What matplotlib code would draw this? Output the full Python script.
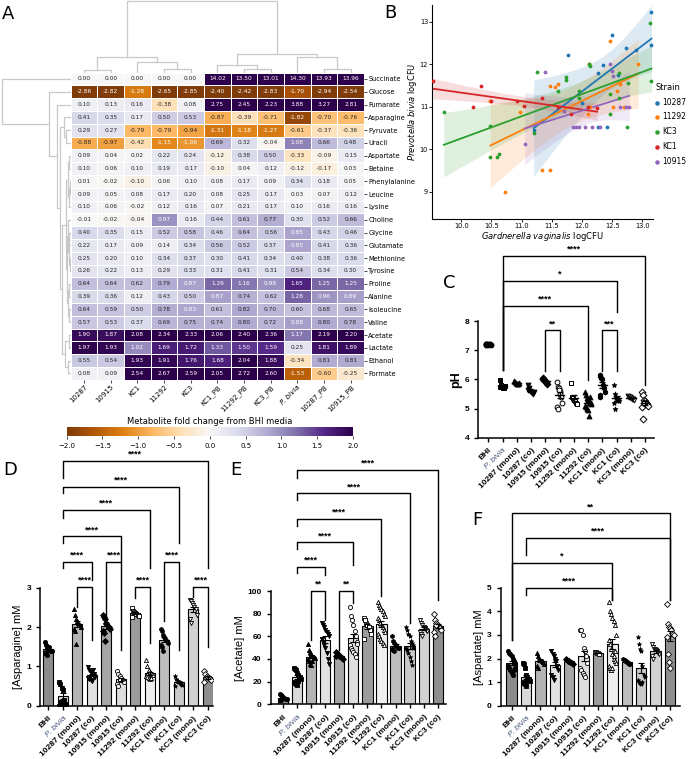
import numpy as np
import matplotlib.pyplot as plt
import seaborn as sns

W, H = 696, 759
fig = plt.figure(figsize=(W / 100, H / 100), dpi=100)


def px_axes(x0, y0, x1, y1):
    return fig.add_axes([x0 / W, 1 - y1 / H, (x1 - x0) / W, (y1 - y0) / H])


# ---------------- A: heatmap data ----------------
hm_cols = ["10287", "10915", "KC1", "11292", "KC3", "KC1_PB", "11292_PB",
           "KC3_PB", "P. bivia", "10287_PB", "10915_PB"]
hm_rows = ["Succinate", "Glucose", "Fumarate", "Asparagine", "Pyruvate", "Uracil",
           "Aspartate", "Betaine", "Phenylalanine", "Leucine", "Lysine", "Choline",
           "Glycine", "Glutamate", "Methionine", "Tyrosine", "Proline", "Alanine",
           "Isoleucine", "Valine", "Acetate", "Lactate", "Ethanol", "Formate"]
hm_vals = np.array([
    [0.00, 0.00, 0.00, 0.00, 0.00, 14.02, 13.50, 13.01, 14.30, 13.93, 13.96],
    [-2.86, -2.82, -1.28, -2.65, -2.85, -2.40, -2.42, -2.83, -1.70, -2.94, -2.54],
    [0.10, 0.13, 0.16, -0.38, 0.08, 2.75, 2.45, 2.23, 3.88, 3.27, 2.81],
    [0.41, 0.35, 0.17, 0.50, 0.53, -0.87, -0.39, -0.71, -1.82, -0.70, -0.76],
    [0.29, 0.27, -0.79, -0.79, -0.94, -1.31, -1.18, -1.27, -0.61, -0.37, -0.36],
    [-0.88, -0.97, -0.42, -1.15, -1.06, 0.69, 0.32, -0.04, 1.08, 0.66, 0.48],
    [0.09, 0.04, 0.02, 0.22, 0.24, -0.12, 0.38, 0.50, -0.33, -0.09, 0.15],
    [0.10, 0.06, 0.10, 0.19, 0.17, -0.10, 0.04, 0.12, -0.12, -0.17, 0.03],
    [0.01, -0.02, -0.10, 0.06, 0.10, 0.08, 0.17, 0.09, 0.34, 0.18, 0.05],
    [0.09, 0.05, 0.08, 0.17, 0.20, 0.08, 0.25, 0.17, 0.03, 0.07, 0.12],
    [0.10, 0.06, -0.02, 0.12, 0.16, 0.07, 0.21, 0.17, 0.10, 0.16, 0.16],
    [-0.01, -0.02, -0.04, 0.97, 0.16, 0.44, 0.61, 0.77, 0.30, 0.52, 0.66],
    [0.40, 0.35, 0.15, 0.52, 0.58, 0.46, 0.64, 0.56, 0.85, 0.43, 0.46],
    [0.22, 0.17, 0.09, 0.14, 0.34, 0.56, 0.52, 0.37, 0.85, 0.41, 0.36],
    [0.25, 0.20, 0.10, 0.34, 0.37, 0.30, 0.41, 0.34, 0.40, 0.38, 0.36],
    [0.26, 0.22, 0.13, 0.29, 0.33, 0.31, 0.41, 0.31, 0.54, 0.34, 0.30],
    [0.64, 0.64, 0.62, 0.79, 0.87, 1.26, 1.16, 0.98, 1.65, 1.25, 1.25],
    [0.39, 0.36, 0.12, 0.43, 0.50, 0.87, 0.74, 0.62, 1.28, 0.96, 0.89],
    [0.64, 0.59, 0.50, 0.78, 0.83, 0.61, 0.82, 0.70, 0.60, 0.68, 0.65],
    [0.57, 0.53, 0.37, 0.69, 0.75, 0.74, 0.80, 0.72, 0.88, 0.80, 0.78],
    [1.90, 1.87, 2.08, 2.34, 2.33, 2.06, 2.40, 2.36, 1.17, 2.19, 2.20],
    [1.97, 1.93, 1.02, 1.69, 1.72, 1.33, 1.50, 1.59, 0.25, 1.81, 1.89],
    [0.55, 0.54, 1.93, 1.91, 1.76, 1.68, 2.04, 1.88, -0.34, 0.81, 0.81],
    [0.08, 0.09, 2.54, 2.67, 2.59, 2.05, 2.72, 2.60, -1.53, -0.60, -0.25],
])
# dendrogram merges: (child a, child b, height in px)
col_merges = [(0, 1, 3), (3, 4, 4), (2, 12, 10.3), (11, 13, 16), (6, 7, 4), (5, 15, 8),
              (9, 10, 4), (8, 17, 15.7), (16, 18, 19), (14, 19, 72)]
row_merges = [(20, 21, 2), (22, 23, 2.5), (24, 25, 6), (4, 5, 5), (3, 27, 7),
              (6, 7, 1.5), (8, 9, 1), (30, 10, 1.5), (29, 31, 2.5), (12, 13, 1.5),
              (14, 15, 1), (33, 34, 2), (11, 35, 3), (16, 17, 2), (18, 19, 1.5),
              (37, 38, 3), (36, 39, 4), (32, 40, 5), (41, 26, 9), (28, 42, 11),
              (2, 43, 14), (1, 44, 21.7), (0, 45, 69)]

# ---------------- B: scatter data ----------------
strains = ["10287", "11292", "KC3", "KC1", "10915"]
strain_colors = ["#1f77b4", "#ff7f0e", "#2ca02c", "#d62728", "#9467bd"]
gv_10287 = [11.2, 11.76, 12.27, 12.34, 12.42, 12.27, 12.5, 12.6, 12.72, 12.9, 13.15, 13.15, 12.0]
pb_10287 = [10.45, 12.22, 11.8, 11.98, 10.52, 10.52, 12.69, 11.75, 12.39, 12.35, 13.23, 12.45, 11.1]
gv_11292 = [10.48, 10.73, 10.97, 11.33, 11.47, 11.47, 11.55, 11.6, 12.1, 12.11, 12.13, 12.47,
            12.51, 12.58, 12.63, 12.7, 12.93]
pb_11292 = [11.14, 8.99, 10.87, 9.52, 9.52, 11.5, 11.47, 11.53, 10.83, 12.02, 11.0, 12.55,
            11.0, 11.37, 11.53, 11.0, 12.02]
gv_KC3 = [9.71, 10.48, 10.48, 10.59, 10.63, 11.21, 11.26, 11.6, 11.74, 11.74, 11.95, 11.95,
          12.11, 12.13, 12.47, 12.47, 12.61, 12.61, 12.74, 12.76, 13.12, 13.15]
pb_KC3 = [10.88, 10.56, 9.82, 9.83, 9.9, 10.38, 11.82, 11.38, 11.71, 11.64, 11.38, 11.22,
          12.0, 11.96, 11.3, 10.83, 11.8, 11.22, 10.52, 11.57, 12.98, 11.6]
gv_KC1 = [9.53, 10.19, 10.32, 10.5, 10.92, 11.04, 11.33, 11.6, 11.81, 12.1, 12.25]
pb_KC1 = [11.6, 10.99, 11.49, 11.14, 11.14, 11.01, 11.22, 11.0, 10.83, 10.99, 10.97]
gv_10915 = [11.05, 11.38, 11.7, 11.85, 11.9, 11.95, 12.05, 12.16, 12.3, 12.46, 12.5, 12.51,
            12.63, 12.72, 12.78]
pb_10915 = [10.12, 11.83, 10.91, 10.52, 10.52, 10.52, 10.52, 10.52, 10.52, 12.02, 11.84,
            11.73, 11.0, 11.0, 11.0]

# ---------------- C-F: group data ----------------
groups = ["BHI", "P. bivia", "10287 (mono)", "10287 (co)", "10915 (mono)", "10915 (co)",
          "11292 (mono)", "11292 (co)", "KC1 (mono)", "KC1 (co)", "KC3 (mono)", "KC3 (co)"]
ph = [
    [7.18, 7.2, 7.22, 7.19, 7.21, 7.2, 7.18, 7.22],
    [5.98, 5.8, 5.75, 5.72, 5.7, 5.72, 5.78, 5.74],
    [5.95, 5.9, 5.88, 5.85, 5.83, 5.87],
    [5.82, 5.7, 5.6, 5.55, 5.52, 5.5, 5.58, 5.62],
    [6.05, 6.0, 5.98, 5.95, 5.9, 5.85],
    [5.9, 5.75, 5.7, 5.6, 5.5, 5.4, 5.2, 5.05, 4.97, 5.65],
    [5.88, 5.4, 5.35, 5.3, 5.25, 5.2, 5.15],
    [5.55, 5.45, 5.35, 5.3, 5.25, 5.2, 5.15, 5.1, 5.05, 5.0, 4.95, 4.75, 5.4, 5.2],
    [6.15, 6.1, 6.05, 6.0, 5.8, 5.7, 5.55, 5.45, 5.4],
    [5.82, 5.5, 5.4, 5.35, 5.3, 5.3, 5.25, 5.2, 5.0],
    [5.42, 5.4, 5.38, 5.35, 5.33, 5.32, 5.3],
    [5.55, 5.45, 5.3, 5.25, 5.2, 5.15, 5.1, 5.05, 4.65, 5.2],
]
asparagine = [
    [1.62, 1.55, 1.5, 1.45, 1.42, 1.4, 1.38, 1.35, 1.33, 1.3, 1.45, 1.48],
    [0.6, 0.55, 0.45, 0.4, 0.15, 0.05, 0.02, 0.0, 0.1, 0.05],
    [2.45, 2.3, 2.2, 2.15, 2.1, 2.05, 2.0, 1.95, 1.9, 1.58],
    [0.98, 0.9, 0.85, 0.8, 0.78, 0.75, 0.72, 0.7, 0.68, 0.65, 0.62, 0.9, 0.8],
    [2.3, 2.25, 2.2, 2.1, 2.05, 2.0, 1.95, 1.9, 1.85, 1.65],
    [0.88, 0.8, 0.75, 0.7, 0.65, 0.62, 0.6, 0.55, 0.5, 0.65],
    [2.48, 2.42, 2.38, 2.35, 2.32, 2.3, 2.28, 2.25],
    [1.15, 1.0, 0.9, 0.85, 0.82, 0.8, 0.78, 0.75, 0.72, 0.7, 0.68, 0.7],
    [1.95, 1.9, 1.8, 1.75, 1.7, 1.65, 1.6, 1.55, 1.5, 1.4],
    [0.75, 0.68, 0.62, 0.6, 0.58, 0.55, 0.52, 0.5],
    [2.7, 2.65, 2.6, 2.55, 2.5, 2.45, 2.3, 2.2, 2.1],
    [0.88, 0.8, 0.75, 0.72, 0.7, 0.68, 0.65, 0.6],
]
acetate = [
    [9, 8, 7, 6, 6, 5, 5, 4, 4, 6],
    [32, 31, 30, 28, 26, 24, 22, 20, 19, 18, 17, 21],
    [53, 48, 46, 44, 43, 42, 41, 40, 38, 36, 35, 38],
    [72, 70, 68, 66, 64, 62, 60, 58, 55, 52, 50, 45, 40, 36, 58],
    [46, 45, 44, 43, 42, 41, 40, 43],
    [86, 78, 74, 70, 65, 60, 55, 52, 50, 48, 46, 44, 42, 53],
    [76, 74, 72, 70, 68, 66, 62, 58, 74],
    [90, 88, 86, 84, 82, 80, 78, 76, 74, 72, 70, 68, 66, 64, 62, 60, 58, 56, 54, 52],
    [60, 56, 54, 52, 51, 50, 50, 49, 48, 47],
    [68, 66, 62, 60, 56, 54, 52, 50, 48, 45, 42, 38, 35, 50],
    [74, 72, 70, 68, 67, 66, 65, 64, 62, 60],
    [80, 74, 72, 70, 68, 67, 66, 64, 60, 70],
]
aspartate = [
    [2.3, 2.25, 2.2, 2.1, 2.0, 1.9, 1.8, 1.7, 1.6, 1.5, 1.4, 1.3, 1.5, 1.6],
    [1.8, 1.75, 1.6, 1.3, 1.2, 1.1, 1.05, 1.0, 0.95, 0.9, 0.85, 1.1],
    [2.25, 2.1, 2.0, 1.95, 1.9, 1.85, 1.75, 1.7, 1.6],
    [2.3, 2.2, 2.1, 2.0, 1.9, 1.7, 1.5, 1.3, 1.2, 1.1, 1.9],
    [2.0, 1.95, 1.9, 1.88, 1.85, 1.8, 1.75],
    [3.2, 3.2, 3.0, 2.45, 2.3, 2.1, 1.8, 1.6, 1.5, 1.4, 1.3, 1.2],
    [2.28, 2.26, 2.24, 2.22, 2.2],
    [4.4, 4.0, 3.9, 3.7, 3.6, 3.4, 3.0, 2.8, 2.6, 2.4, 2.2, 2.0, 1.9, 1.8, 1.7, 1.6, 1.5,
     1.6, 2.1, 2.3],
    [2.0, 1.95, 1.9, 1.85, 1.8, 1.78, 1.75],
    [2.9, 2.6, 2.4, 2.3, 1.7, 1.3, 1.2, 1.1, 1.0, 0.95, 0.9, 1.0],
    [2.6, 2.5, 2.4, 2.35, 2.3, 2.25, 2.2, 2.1, 2.0],
    [4.3, 3.45, 3.35, 3.3, 3.2, 3.1, 3.0, 2.9, 2.2, 1.85, 1.6, 3.2],
]
# significance brackets: (group i, group j, bar height, label, left leg end, right leg end)
sig_ph = [(1, 11, 10.23, "****", 6.32, 5.8), (1, 9, 9.38, "*", 6.32, 8.32),
          (1, 7, 8.51, "****", 6.32, 5.98), (4, 5, 7.68, "**", 6.3, 6.3),
          (8, 9, 7.68, "***", 6.3, 6.3)]
sig_asn = [(1, 11, 6.22, "****", 5.79, 3.5), (1, 9, 5.57, "****", 5.41, 4.14),
           (1, 7, 4.98, "****", 4.77, 3.5), (1, 5, 4.31, "****", 4.14, 3.66),
           (1, 3, 3.66, "****", 3.5, 3.2), (4, 5, 3.66, "****", 2.27, 1.42),
           (8, 9, 3.66, "****", 2.15, 1.42), (2, 3, 3.03, "****", 2.52, 1.67),
           (6, 7, 3.03, "****", 2.73, 1.6), (10, 11, 3.03, "****", 2.77, 1.5)]
sig_ace = [(1, 11, 206.8, "****", 200, 92), (1, 9, 186.2, "****", 180, 72),
           (1, 7, 163.5, "****", 157, 96), (1, 5, 143, "****", 137, 123),
           (1, 3, 121.4, "****", 116, 114), (2, 3, 100.3, "**", 57, 74),
           (4, 5, 100.3, "**", 48, 89)]
sig_asp = [(0, 11, 8.15, "**", 2.78, 4.48), (1, 11, 7.12, "****", 6.38, 4.48),
           (0, 7, 6.06, "*", 2.78, 4.48), (1, 7, 5.0, "****", 4.7, 4.48)]

bar_colors = ["#8c8c8c", "#d9d9d9", "#b4b4b4", "#e2e2e2", "#a6a6a6", "#dedede",
              "#9c9c9c", "#efefef", "#bebebe", "#cacaca", "#d2d2d2", "#8e8e8e"]
markers = ["o", "s", "^", "v", "D", "o", "s", "^", "h", "*", "v", "D"]
filled = [True, True, True, True, True, False, False, False, True, True, False, False]


def spread(n):
    k = np.arange(n)
    return ((k % 7) - 3) * 0.08


def bracket(ax, i, j, y, label, yl, yr):
    ax.plot([i, i, j, j], [yl, y, y, yr], color="k", lw=1.0, clip_on=False)
    ax.annotate(label, xy=((i + j) / 2, y), xytext=(0, 1.5), textcoords="offset points",
                ha="center", va="bottom", fontsize=6.5, fontweight="bold",
                family="Liberation Sans", annotation_clip=False)


def style_group_axes(ax, ylim, yticks, ylabel, xlim):
    ax.set_xlim(*xlim)
    ax.set_ylim(*ylim)
    ax.set_yticks(yticks)
    for s in ["top", "right"]:
        ax.spines[s].set_visible(False)
    for s in ["left", "bottom"]:
        ax.spines[s].set_linewidth(1.1)
    ax.tick_params(axis="both", width=1.0, length=3, labelsize=6)
    for t in ax.get_yticklabels():
        t.set_fontweight("bold")
        t.set_family("Liberation Sans")
    ax.set_xticks(range(len(groups)))
    ax.set_xticklabels(groups, rotation=45, ha="right", rotation_mode="anchor",
                       fontsize=6, fontweight="bold", family="Liberation Sans")
    lab = ax.get_xticklabels()[1]
    lab.set_fontstyle("italic")
    lab.set_fontweight("normal")
    lab.set_color("#4a5a80")
    ax.set_ylabel(ylabel, fontsize=8, family="Liberation Sans", labelpad=2)


def bar_panel(ax, data, sig):
    for k, vals in enumerate(data):
        vals = np.asarray(vals, dtype=float)
        m = vals.mean()
        sem = vals.std(ddof=1) / np.sqrt(len(vals))
        ax.bar(k, m, width=0.72, color=bar_colors[k], edgecolor="k", lw=0.8, zorder=1)
        ax.scatter(k + spread(len(vals)), vals, marker=markers[k], s=9,
                   facecolors="k" if filled[k] else "white", edgecolors="k",
                   linewidths=0.6, zorder=2)
        ax.errorbar(k, m, yerr=sem, color="k", capsize=2, lw=0.8, capthick=0.8, zorder=3)
    for b in sig:
        bracket(ax, *b)


# ---------------- A ----------------
ax_hm = px_axes(70.7, 72.6, 364, 379.8)
cax = px_axes(66.7, 426.7, 353, 435.7)
sns.heatmap(hm_vals, ax=ax_hm, cmap="PuOr", vmin=-2, vmax=2, annot=True, fmt=".2f",
            annot_kws={"size": 4.2}, linewidths=0.4, linecolor="white", cbar_ax=cax,
            cbar_kws={"orientation": "horizontal"}, xticklabels=hm_cols,
            yticklabels=hm_rows)
ax_hm.yaxis.tick_right()
ax_hm.set_yticklabels(hm_rows, rotation=0, fontsize=4.8)
ax_hm.set_xticklabels(hm_cols, rotation=45, ha="right", rotation_mode="anchor", fontsize=5)
ax_hm.get_xticklabels()[8].set_fontstyle("italic")
ax_hm.tick_params(axis="both", length=2, width=0.5, pad=1)
cax.set_xlabel("Metabolite fold change from BHI media", fontsize=6, labelpad=2)
cax.xaxis.set_label_position("top")
cax.tick_params(labelsize=5, length=2, width=0.5)
cax.set_xticks(np.arange(-2, 2.01, 0.5))


def draw_dendro(ax, merges, n, vertical):
    pos = {k: k + 0.5 for k in range(n)}
    hgt = {k: 0.0 for k in range(n)}
    for idx, (a, b, h) in enumerate(merges):
        xa, xb = pos[a], pos[b]
        seg_p = [xa, xa, xb, xb]
        seg_h = [hgt[a], h, h, hgt[b]]
        if vertical:
            ax.plot(seg_p, seg_h, color="#c8c8c8", lw=0.9)
        else:
            ax.plot(seg_h, seg_p, color="#c8c8c8", lw=0.9)
        pos[n + idx] = (xa + xb) / 2
        hgt[n + idx] = h
    ax.axis("off")


ax_cd = px_axes(70.7, 0, 364, 72.6)
draw_dendro(ax_cd, col_merges, len(hm_cols), True)
ax_cd.set_xlim(0, len(hm_cols))
ax_cd.set_ylim(0, 72.6)

ax_rd = px_axes(0, 72.6, 70.7, 379.8)
draw_dendro(ax_rd, row_merges, len(hm_rows), False)
ax_rd.set_ylim(len(hm_rows), 0)
ax_rd.set_xlim(70.7, 0)

# ---------------- B ----------------
ax_b = px_axes(432.3, 5, 652.7, 219)
b_x = [gv_10287, gv_11292, gv_KC3, gv_KC1, gv_10915]
b_y = [pb_10287, pb_11292, pb_KC3, pb_KC1, pb_10915]
for name, col, xs, ys in zip(strains, strain_colors, b_x, b_y):
    xs = np.asarray(xs)
    ys = np.asarray(ys)
    ax_b.scatter(xs, ys, s=3, color=col, label=name, zorder=3)
    slope, icpt = np.polyfit(xs, ys, 1)
    grid = np.linspace(xs.min(), xs.max(), 100)
    fit = icpt + slope * grid
    resid = ys - (icpt + slope * xs)
    s_err = np.sqrt(np.sum(resid ** 2) / (len(xs) - 2))
    se = s_err * np.sqrt(1 / len(xs) + (grid - xs.mean()) ** 2 / np.sum((xs - xs.mean()) ** 2))
    ax_b.fill_between(grid, fit - 2.3 * se, fit + 2.3 * se, color=col, alpha=0.15, lw=0)
    ax_b.plot(grid, fit, color=col, lw=1.3)
ax_b.set_xlim(9.52, 13.17)
ax_b.set_ylim(8.36, 13.4)
ax_b.set_xticks(np.arange(10, 13.01, 0.5))
ax_b.set_yticks([9, 10, 11, 12, 13])
ax_b.tick_params(labelsize=4.8, length=2, width=0.6, pad=1)
ax_b.spines["top"].set_visible(False)
ax_b.spines["right"].set_visible(False)
ax_b.set_xlabel("$\\it{Gardnerella\\ vaginalis}$ logCFU", fontsize=6, labelpad=0.5)
ax_b.set_ylabel("$\\it{Prevotella\\ bivia}$ logCFU", fontsize=6, labelpad=0.5)
leg = fig.legend(*ax_b.get_legend_handles_labels(), title="Strain", loc="upper left",
                 bbox_to_anchor=(655 / W, 1 - 83 / H), frameon=False, fontsize=5.5,
                 title_fontsize=6, markerscale=1.3, handlelength=0.6, handletextpad=0.4,
                 labelspacing=0.75, borderpad=0, borderaxespad=0)
leg._legend_box.align = "left"

# ---------------- C ----------------
ax_c = px_axes(478.3, 321, 654, 437.7)
for k, vals in enumerate(ph):
    vals = np.asarray(vals)
    m = vals.mean()
    sem = vals.std(ddof=1) / np.sqrt(len(vals))
    mk = "^" if k == 7 else markers[k]
    fc = "k" if (filled[k] or k == 7) else "white"
    ax_c.scatter(k + spread(len(vals)) * 0.8, vals, marker=mk, s=12, facecolors=fc,
                 edgecolors="k", linewidths=0.7, zorder=2)
    ax_c.plot([k - 0.3, k + 0.3], [m, m], color="k", lw=1, zorder=3)
    ax_c.errorbar(k, m, yerr=sem, color="k", capsize=2, lw=0.8, zorder=3)
for b in sig_ph:
    bracket(ax_c, *b)
style_group_axes(ax_c, (4, 8), [4, 5, 6, 7, 8], "pH", (-0.7, 11.63))
ax_c.yaxis.label.set_fontweight("bold")
ax_c.yaxis.label.set_fontsize(9)

# ---------------- D, E, F ----------------
ax_d = px_axes(40, 587.7, 213, 705.7)
bar_panel(ax_d, asparagine, sig_asn)
style_group_axes(ax_d, (0, 3), [0, 1, 2, 3], "[Asparagine] mM", (-0.57, 11.36))

ax_e = px_axes(270.7, 591, 446, 704.3)
bar_panel(ax_e, acetate, sig_ace)
style_group_axes(ax_e, (0, 100), [0, 20, 40, 60, 80, 100], "[Acetate] mM", (-0.9, 11.6))

ax_f = px_axes(500.7, 587.7, 680, 705.7)
bar_panel(ax_f, aspartate, sig_asp)
style_group_axes(ax_f, (0, 5), [0, 1, 2, 3, 4, 5], "[Aspartate] mM", (-0.76, 11.69))

# panel letters
for lab, x, y in [("A", 8, 14), ("B", 390, 13), ("C", 449, 283), ("D", 10, 470),
                  ("E", 236, 470), ("F", 477, 520)]:
    fig.text(x / W, 1 - y / H, lab, fontsize=13, family="DejaVu Sans", va="center", ha="center")

fig.savefig("out.png", dpi=100)
